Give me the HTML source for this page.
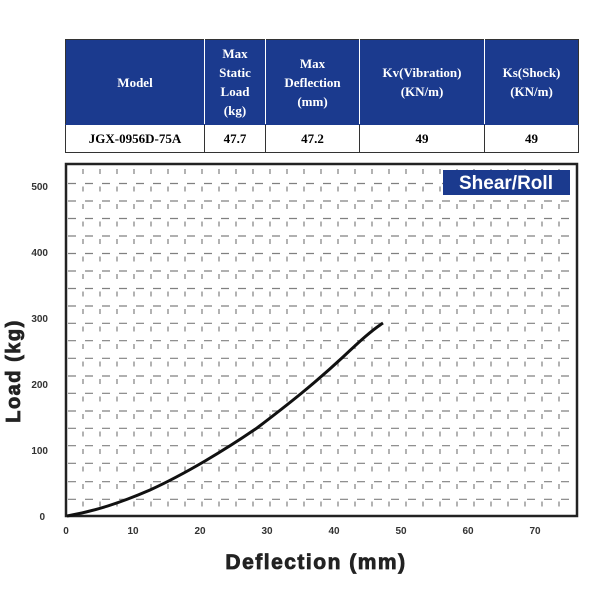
<!DOCTYPE html>
<html><head><style>
body{margin:0;width:600px;height:600px;background:#fff;position:relative;overflow:hidden;font-family:"Liberation Sans",sans-serif}
table{position:absolute;left:65px;top:39px;width:514px;height:114px;border-collapse:collapse;font-family:"Liberation Serif",serif;font-weight:bold;font-size:13px;text-align:center}
td{border:1.5px solid #333;padding:0}
tr.h td{background:#1b3a8e;color:#fff;height:84px;line-height:19px;border-color:#333 #fff #1b3a8e #fff}
tr.h td:first-child{border-left-color:#333}
tr.h td:last-child{border-right-color:#333}
</style></head><body>
<table>
<tr class="h"><td style="width:138px">Model</td><td style="width:60px">Max<br>Static<br>Load<br>(kg)</td><td style="width:93px">Max<br>Deflection<br>(mm)</td><td style="width:124px">Kv(Vibration)<br>(KN/m)</td><td>Ks(Shock)<br>(KN/m)</td></tr>
<tr><td>JGX-0956D-75A</td><td>47.7</td><td>47.2</td><td>49</td><td>49</td></tr>
</table>
<svg width="600" height="600" style="position:absolute;left:0;top:0">
<g stroke="#808080" stroke-width="1.2" stroke-dasharray="8,9" stroke-dashoffset="-2">
<line x1="66" x2="577" y1="499.3" y2="499.3"/><line x1="66" x2="577" y1="481.7" y2="481.7"/><line x1="66" x2="577" y1="463.3" y2="463.3"/><line x1="66" x2="577" y1="445.7" y2="445.7"/><line x1="66" x2="577" y1="428.3" y2="428.3"/><line x1="66" x2="577" y1="411" y2="411"/><line x1="66" x2="577" y1="393.3" y2="393.3"/><line x1="66" x2="577" y1="376" y2="376"/><line x1="66" x2="577" y1="358.3" y2="358.3"/><line x1="66" x2="577" y1="340.7" y2="340.7"/><line x1="66" x2="577" y1="323.3" y2="323.3"/><line x1="66" x2="577" y1="306" y2="306"/><line x1="66" x2="577" y1="288.5" y2="288.5"/><line x1="66" x2="577" y1="271" y2="271"/><line x1="66" x2="577" y1="253.5" y2="253.5"/><line x1="66" x2="577" y1="236" y2="236"/><line x1="66" x2="577" y1="218.5" y2="218.5"/><line x1="66" x2="577" y1="201" y2="201"/><line x1="66" x2="577" y1="183.5" y2="183.5"/>
</g>
<g stroke="#808080" stroke-width="1.2" stroke-dasharray="5,12.5" stroke-dashoffset="-4">
<line y1="165" y2="516" x1="83" x2="83"/><line y1="165" y2="516" x1="100" x2="100"/><line y1="165" y2="516" x1="117" x2="117"/><line y1="165" y2="516" x1="134" x2="134"/><line y1="165" y2="516" x1="151" x2="151"/><line y1="165" y2="516" x1="168" x2="168"/><line y1="165" y2="516" x1="185" x2="185"/><line y1="165" y2="516" x1="202" x2="202"/><line y1="165" y2="516" x1="219" x2="219"/><line y1="165" y2="516" x1="236" x2="236"/><line y1="165" y2="516" x1="253" x2="253"/><line y1="165" y2="516" x1="270" x2="270"/><line y1="165" y2="516" x1="287" x2="287"/><line y1="165" y2="516" x1="304" x2="304"/><line y1="165" y2="516" x1="321" x2="321"/><line y1="165" y2="516" x1="338" x2="338"/><line y1="165" y2="516" x1="355" x2="355"/><line y1="165" y2="516" x1="372" x2="372"/><line y1="165" y2="516" x1="389" x2="389"/><line y1="165" y2="516" x1="406" x2="406"/><line y1="165" y2="516" x1="423" x2="423"/><line y1="165" y2="516" x1="440" x2="440"/><line y1="165" y2="516" x1="457" x2="457"/><line y1="165" y2="516" x1="474" x2="474"/><line y1="165" y2="516" x1="491" x2="491"/><line y1="165" y2="516" x1="508" x2="508"/><line y1="165" y2="516" x1="525" x2="525"/><line y1="165" y2="516" x1="542" x2="542"/><line y1="165" y2="516" x1="559" x2="559"/>
</g>
<rect x="66" y="164" width="511" height="352" fill="none" stroke="#222" stroke-width="2.5"/>
<path fill="none" stroke="#111" stroke-width="3" d="M67,516 C95,511 120,503 150,490 C185,474 225,450 257,428 C290,403 315,383 343,357 C360,341 372,330 383,323"/>
<rect x="443" y="170" width="127" height="25" fill="#1b3a8e"/>
<text x="506" y="189" fill="#fff" font-size="19" font-weight="bold" text-anchor="middle">Shear/Roll</text>
<g font-size="10" font-weight="bold" fill="#333" text-anchor="end">
<text x="45" y="520">0</text><text x="48" y="454">100</text><text x="48" y="388">200</text><text x="48" y="322">300</text><text x="48" y="256">400</text><text x="48" y="190">500</text>
</g>
<g font-size="10" font-weight="bold" fill="#333" text-anchor="middle">
<text x="66" y="534">0</text><text x="133" y="534">10</text><text x="200" y="534">20</text><text x="267" y="534">30</text><text x="334" y="534">40</text><text x="401" y="534">50</text><text x="468" y="534">60</text><text x="535" y="534">70</text>
</g>
<text x="316" y="569" font-size="21" font-weight="bold" fill="#222" text-anchor="middle" stroke="#222" stroke-width="0.8" letter-spacing="1.5">Deflection (mm)</text>
<text transform="translate(20,371) rotate(-90)" font-size="20" font-weight="bold" fill="#222" text-anchor="middle" stroke="#222" stroke-width="0.8" letter-spacing="1.5">Load (kg)</text>
</svg>
</body></html>
